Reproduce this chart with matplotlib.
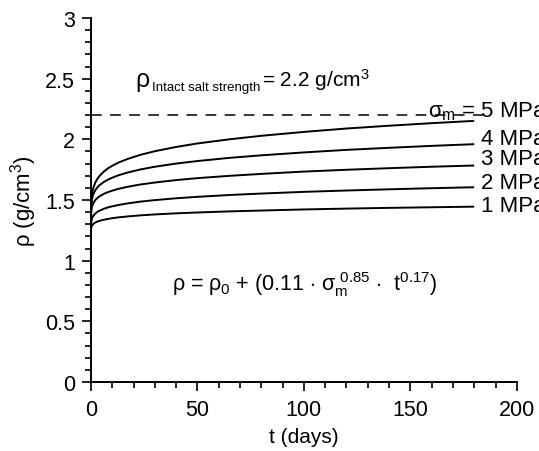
import matplotlib
matplotlib.use("Agg")
import matplotlib.pyplot as plt
from matplotlib.ticker import MultipleLocator

plt.rcParams['font.family'] = ['Liberation Sans', 'DejaVu Sans']
plt.rcParams['mathtext.fontset'] = 'custom'
plt.rcParams['mathtext.rm'] = 'Liberation Sans'
plt.rcParams['mathtext.it'] = 'Liberation Sans'
plt.rcParams['mathtext.bf'] = 'Liberation Sans:bold'

# values
t_days = [0, 0.05, 0.1, 0.2, 0.5, 1, 2, 3, 4, 6, 8, 10, 13, 17, 23, 30, 40,
          50, 65, 80, 100, 120, 140, 160, 180]
rho_1mpa = [1.200, 1.261, 1.268, 1.277, 1.290, 1.301, 1.314, 1.322, 1.328,
            1.337, 1.344, 1.350, 1.357, 1.364, 1.373, 1.381, 1.390, 1.397,
            1.406, 1.413, 1.422, 1.429, 1.435, 1.440, 1.445]
rho_2mpa = [1.200, 1.301, 1.313, 1.327, 1.349, 1.368, 1.388, 1.402, 1.412,
            1.427, 1.439, 1.448, 1.459, 1.471, 1.486, 1.499, 1.514, 1.526,
            1.541, 1.553, 1.567, 1.578, 1.588, 1.597, 1.605]
rho_3mpa = [1.250, 1.383, 1.399, 1.418, 1.447, 1.471, 1.499, 1.516, 1.530,
            1.550, 1.565, 1.577, 1.592, 1.608, 1.627, 1.644, 1.664, 1.680,
            1.699, 1.715, 1.734, 1.749, 1.762, 1.774, 1.784]
rho_4mpa = [1.250, 1.426, 1.448, 1.473, 1.511, 1.544, 1.580, 1.604, 1.622,
            1.648, 1.668, 1.684, 1.704, 1.725, 1.751, 1.774, 1.800, 1.821,
            1.847, 1.868, 1.892, 1.913, 1.930, 1.946, 1.960]
rho_5mpa = [1.200, 1.437, 1.466, 1.500, 1.550, 1.594, 1.643, 1.674, 1.698,
            1.734, 1.761, 1.782, 1.809, 1.837, 1.871, 1.902, 1.937, 1.966,
            2.000, 2.029, 2.061, 2.089, 2.112, 2.133, 2.152]
stress_labels = ['1 MPa', '2 MPa', '3 MPa', '4 MPa']
intact_rho = 2.2

curves = [rho_1mpa, rho_2mpa, rho_3mpa, rho_4mpa, rho_5mpa]
label_dy = [0.7, 3.6, 5.0, 4.0]   # label offsets (points)
dash_end = 186

fig = plt.figure(figsize=(5.39, 4.52), dpi=100)
ax = fig.add_axes([0.1688, 0.1527, 0.790, 0.8053])

for rho in curves:
    ax.plot(t_days, rho, color='black', lw=1.4, solid_capstyle='butt')

ax.hlines(intact_rho, 0, dash_end, colors='black', lw=1.1,
          linestyles=(0, (7, 5.5)))

for rho, lab, dy in zip(curves[:4], stress_labels, label_dy):
    ax.annotate(lab, (t_days[-1], rho[-1]), xytext=(5, dy),
                textcoords='offset points', va='center', ha='left',
                fontsize=16, annotation_clip=False)
ax.text(158.5, 2.19, r'$\sigma_{\mathrm{m}}$ = 5 MPa', fontsize=16,
        va='baseline', ha='left', clip_on=False)

# rho_Intact salt strength = 2.2 g/cm3, built from three pieces
ax.text(20.6, 2.44, r'$\rho$', fontsize=18, va='baseline', ha='left')
ax.text(28.6, 2.41, 'Intact salt strength', fontsize=9.5,
        va='baseline', ha='left')
ax.text(80.2, 2.44, r'= 2.2 g/cm$^3$', fontsize=15, va='baseline', ha='left')

ax.text(38, 0.76,
        r'$\rho$ = $\rho_0$ + (0.11 $\cdot$ $\sigma_{\mathrm{m}}^{\ 0.85}$ $\cdot$  t$^{0.17}$)',
        fontsize=15.5, va='baseline', ha='left')

ax.set_xlim(0, 200)
ax.set_ylim(0, 3)
ax.xaxis.set_major_locator(MultipleLocator(50))
ax.xaxis.set_minor_locator(MultipleLocator(10))
ax.yaxis.set_minor_locator(MultipleLocator(0.1))
ax.set_yticks([0, 0.5, 1, 1.5, 2, 2.5, 3])
ax.set_yticklabels(['0', '0.5', '1', '1.5', '2', '2.5', '3'])

for side in ['top', 'right']:
    ax.spines[side].set_visible(False)
for side in ['left', 'bottom']:
    ax.spines[side].set_linewidth(1.4)

ax.tick_params(which='major', direction='out', length=6.5, width=1.2,
               labelsize=15.5, pad=5)
ax.tick_params(which='minor', direction='out', length=4.3, width=1.2)
ax.tick_params(axis='x', which='major', pad=6)

ax.set_xlabel('t (days)', fontsize=15, labelpad=5)
ax.set_ylabel(r'$\rho$ (g/cm$^3$)', fontsize=16, labelpad=4)

fig.savefig('out.png', dpi=100)
